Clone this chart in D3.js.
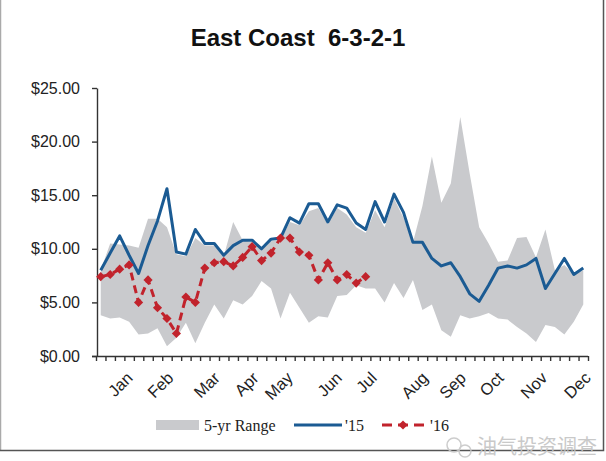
<!DOCTYPE html>
<html><head><meta charset="utf-8">
<script src="https://cdn.jsdelivr.net/npm/d3@7"></script>
<style>body{margin:0;background:#fff}svg{display:block}</style>
</head><body>
<svg id="c" width="606" height="461"></svg>
<script>
// ---- data (weekly, 52 weeks) ----
const weeks = d3.range(52);
const rangeLow  = [3.8,3.5,3.6,3.2,2.0,2.1,2.6,0.9,1.7,3.1, 1.2,3.1,4.8,3.5,5.2,4.8,5.6,7.0,6.3,3.5, 5.9,4.5,3.1,3.7,3.6,5.6,5.7,6.6,6.3,6.3, 5.0,6.8,5.4,7.1,4.3,4.8,2.4,1.8,3.8,3.5, 3.7,4.0,3.5,3.4,2.7,2.1,1.3,2.9,2.7,2.0,3.2,4.8];
const rangeHigh = [8.0,10.5,10.4,10.3,10.1,12.8,12.8,12.0,9.5,9.3, 11.0,10.3,10.3,9.3,12.5,10.8,10.6,9.9,10.7,10.9, 12.5,12.2,13.5,13.8,12.3,13.8,13.2,12.0,11.5,13.6, 12.0,14.7,12.9,10.6,14.0,18.6,14.3,16.1,22.3,17.0, 12.0,10.5,8.8,8.9,11.0,11.1,9.2,11.8,8.0,8.5,7.6,8.0];
const series15 = [8.0,9.6,11.2,9.4,7.7,10.3,12.6,15.6,9.7,9.5, 11.8,10.5,10.5,9.4,10.3,10.8,10.8,10.0,10.9,11.0, 12.9,12.4,14.2,14.2,12.5,14.1,13.8,12.4,11.8,14.4, 12.5,15.1,13.4,10.6,10.6,9.1,8.4,8.7,7.4,5.8, 5.1,6.6,8.2,8.4,8.2,8.5,9.1,6.3,7.7,9.1,7.6,8.2];
const series16 = [7.4,7.6,8.1,8.5,5.0,7.1,4.5,3.5,2.1,5.5, 5.0,8.2,8.7,8.8,8.4,9.2,10.2,8.9,9.6,11.0, 11.0,9.7,9.4,7.1,8.7,7.1,7.6,6.8,7.4];
const months = ["Jan","Feb","Mar","Apr","May","Jun","Jul","Aug","Sep","Oct","Nov","Dec"];
const monthWeeks = [3.5,7.8,12.7,16.8,20.4,25.6,29.3,34.7,38.7,42.7,47.3,51.9];
const yTicks = [0,5,10,15,20,25];
const legendLabels = ["5-yr Range","'15","'16"];
const title = "East Coast  6-3-2-1";

// ---- drawing ----
const svg = d3.select("#c");
const W = 606, H = 461;
svg.append("rect").attr("width",W).attr("height",H).attr("fill","#fff");

const x = d3.scaleBand().domain(weeks).range([96,588]);
const xc = i => x(i) + x.bandwidth()/2;
const xw = d3.scaleLinear().domain([0,51]).range([xc(0), xc(51)]);
const y = d3.scaleLinear().domain([0,25]).range([356,88]);

const blue = "#1b5b93", red = "#c1232c", grey = "#c9cacd";

// title
svg.append("text").attr("x",298).attr("y",46).attr("text-anchor","middle")
  .style("white-space","pre")
  .attr("font-family","'Liberation Sans', Arial, sans-serif").attr("font-weight","bold")
  .attr("font-size",24).attr("fill","#111").text(title);

// range area
svg.append("path").datum(weeks)
  .attr("d", d3.area().x(i=>xc(i)).y0(i=>y(rangeLow[i])).y1(i=>y(rangeHigh[i])))
  .attr("fill", grey);

// axes
const yAxis = d3.axisLeft(y).tickValues(yTicks).tickFormat(d=>"$"+d.toFixed(2))
  .tickSize(5).tickSizeOuter(0).tickPadding(12);
const gy = svg.append("g").attr("transform","translate(97,0)").call(yAxis);
gy.selectAll("text").attr("font-family","'Liberation Sans', Arial, sans-serif")
  .attr("font-size",16).attr("fill","#222");

const xe = d3.scaleLinear().domain([0,52]).range([x.range()[0], x.range()[1]]);
const xAxis = d3.axisBottom(xe).tickValues(d3.range(53)).tickFormat("")
  .tickSize(5).tickSizeOuter(0);
const gx = svg.append("g").attr("transform","translate(0,356)").call(xAxis);
[gy,gx].forEach(g=>{ g.selectAll("path,line").attr("stroke","#333").attr("stroke-width",1.4); });
gx.select(".domain").attr("d","M92,0.5H588");

// month labels
svg.append("g").selectAll("text").data(months).join("text")
  .attr("transform",(d,i)=>`translate(${xw(monthWeeks[i])},379) rotate(-45)`)
  .attr("text-anchor","end")
  .attr("font-family","'Liberation Sans', Arial, sans-serif").attr("font-size",16.5)
  .attr("fill","#222").text(d=>d);

// '15 line
svg.append("path").datum(weeks)
  .attr("d", d3.line().x(i=>xc(i)).y(i=>y(series15[i])))
  .attr("fill","none").attr("stroke",blue).attr("stroke-width",3).attr("stroke-linejoin","round");

// '16 line
const i16 = d3.range(series16.length);
svg.append("path").datum(i16)
  .attr("d", d3.line().x(i=>xc(i)).y(i=>y(series16[i])))
  .attr("fill","none").attr("stroke",red).attr("stroke-width",3).attr("stroke-dasharray","8,5");
const dia = d3.symbol(d3.symbolSquare, 42)();
svg.append("g").selectAll("path").data(i16).join("path")
  .attr("d",dia).attr("transform",i=>`translate(${xc(i)},${y(series16[i])}) rotate(45)`)
  .attr("fill",red);

// legend
const lg = svg.append("g");
const lf = "'Liberation Serif', 'Times New Roman', serif";
lg.append("rect").attr("x",156).attr("y",420).attr("width",43).attr("height",10).attr("fill",grey);
lg.append("text").attr("x",204).attr("y",431).attr("font-family",lf).attr("font-size",16).attr("fill","#222").text(legendLabels[0]);
lg.append("line").attr("x1",294).attr("x2",342).attr("y1",425).attr("y2",425).attr("stroke",blue).attr("stroke-width",3);
lg.append("text").attr("x",345).attr("y",431).attr("font-family",lf).attr("font-size",16).attr("fill","#222").text(legendLabels[1]);
lg.append("line").attr("x1",382).attr("x2",424).attr("y1",425).attr("y2",425).attr("stroke",red).attr("stroke-width",3).attr("stroke-dasharray","10,6");
lg.append("path").attr("d",dia).attr("transform","translate(403,425) rotate(45)").attr("fill",red);
lg.append("text").attr("x",430).attr("y",431).attr("font-family",lf).attr("font-size",16).attr("fill","#222").text(legendLabels[2]);

// border
svg.append("line").attr("x1",0.5).attr("x2",0.5).attr("y1",0).attr("y2",450).attr("stroke","#aaa").attr("stroke-width",1.5);
svg.append("path").attr("d","M0,450.5H603.5V0").attr("fill","none").attr("stroke","#555").attr("stroke-width",1.5);

// watermark
const wm = svg.append("g").attr("opacity",0.9);
wm.append("circle").attr("cx",454).attr("cy",445).attr("r",7).attr("fill","none").attr("stroke","#c8c8c8").attr("stroke-width",1.5);
wm.append("circle").attr("cx",465).attr("cy",451).attr("r",6).attr("fill","none").attr("stroke","#c8c8c8").attr("stroke-width",1.5);
wm.append("text").attr("x",477).attr("y",454).attr("font-family","'Noto Sans CJK SC', sans-serif")
  .attr("font-size",20).attr("fill","#c4c4c4").text("油气投资调查");
</script>
</body></html>
